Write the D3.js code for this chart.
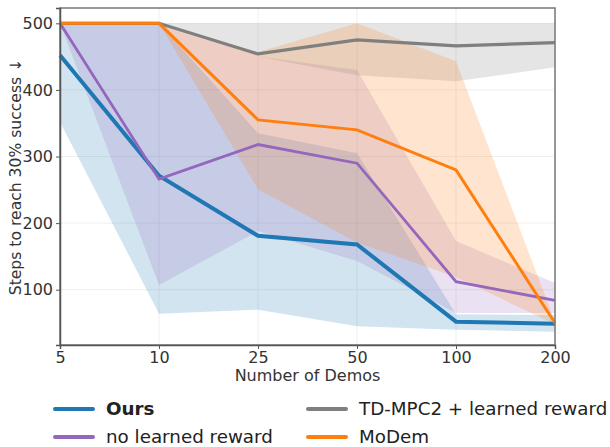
<!DOCTYPE html>
<html>
<head>
<meta charset="utf-8">
<script src="https://cdn.jsdelivr.net/npm/d3@7"></script>
<style>
  html, body { margin: 0; padding: 0; background: #fff; }
  svg { display: block; font-family: "DejaVu Sans", sans-serif; }
</style>
</head>
<body>
<svg id="chart" width="610" height="447"></svg>
<script>
// Number of demonstrations (categorical x axis)
const demos = ["5", "10", "25", "50", "100", "200"];
const yTicks = [100, 200, 300, 400, 500];

// Steps to reach 30% success: mean line with lower / upper band
const ours      = [452, 271, 181, 168, 52, 49];
const oursLo    = [352, 64, 70, 45, 40, 37];
const oursHi    = [500, 500, 335, 305, 63, 62];

const noReward   = [500, 266, 318, 290, 112, 84];
const noRewardLo = [500, 107, 188, 143, 65, 65];
const noRewardHi = [500, 500, 450, 430, 173, 110];

const tdmpc   = [500, 500, 454, 475, 466, 471];
const tdmpcLo = [500, 500, 450, 422, 413, 434];
const tdmpcHi = [500, 500, 500, 500, 500, 500];

const modem   = [500, 500, 355, 340, 280, 50];
const modemLo = [500, 500, 251, 171, 119, 48];
const modemHi = [500, 500, 457, 500, 443, 52];

const seriesNames = ["Ours", "no learned reward", "TD-MPC2 + learned reward", "MoDem"];
const seriesColors = ["#1f77b4", "#9467bd", "#7f7f7f", "#ff7f0e"];

const series = [
  { name: seriesNames[0], color: seriesColors[0], mean: ours, lo: oursLo, hi: oursHi, width: 4 },
  { name: seriesNames[1], color: seriesColors[1], mean: noReward, lo: noRewardLo, hi: noRewardHi, width: 2.8 },
  { name: seriesNames[2], color: seriesColors[2], mean: tdmpc, lo: tdmpcLo, hi: tdmpcHi, width: 3.2 },
  { name: seriesNames[3], color: seriesColors[3], mean: modem, lo: modemLo, hi: modemHi, width: 3 }
];

const svg = d3.select("#chart");
const L = 60, R = 555, T = 8, B = 345;

const x = d3.scalePoint().domain(demos).range([L, R]);
const y = d3.scaleLinear().domain([17, 523]).range([B, T]);

// grid
const grid = svg.append("g");
grid.selectAll("line.v").data(demos).join("line")
  .attr("x1", d => x(d)).attr("x2", d => x(d)).attr("y1", T).attr("y2", B)
  .attr("stroke", "#efefef").attr("stroke-width", 1);
grid.selectAll("line.h").data(yTicks).join("line")
  .attr("x1", L).attr("x2", R).attr("y1", d => y(d)).attr("y2", d => y(d))
  .attr("stroke", "#efefef").attr("stroke-width", 1);

// bands
const area = d3.area()
  .x((d, i) => x(demos[i]))
  .y0(d => y(d[0]))
  .y1(d => y(d[1]));
series.forEach(s => {
  svg.append("path")
    .datum(s.lo.map((v, i) => [v, s.hi[i]]))
    .attr("d", area)
    .attr("fill", s.color).attr("fill-opacity", 0.2);
});

// mean lines
const line = d3.line().x((d, i) => x(demos[i])).y(d => y(d));
series.forEach(s => {
  svg.append("path")
    .datum(s.mean)
    .attr("d", line)
    .attr("fill", "none")
    .attr("stroke", s.color)
    .attr("stroke-width", s.width)
    .attr("stroke-linejoin", "miter");
});

// frame
svg.append("rect").attr("x", L).attr("y", T).attr("width", R - L).attr("height", B - T)
  .attr("fill", "none").attr("stroke", "#777").attr("stroke-width", 1.5);

// axes
const yAxis = svg.append("g").attr("transform", `translate(${L},0)`)
  .call(d3.axisLeft(y).tickValues(yTicks).tickSize(4).tickPadding(3));
const xAxis = svg.append("g").attr("transform", `translate(0,${B})`)
  .call(d3.axisBottom(x).tickSize(4).tickPadding(3));
[yAxis, xAxis].forEach(a => {
  a.select(".domain").attr("stroke", "#555").attr("stroke-width", 1.5);
  a.selectAll(".tick line").attr("stroke", "#555");
  a.selectAll(".tick text").attr("fill", "#333").attr("font-size", 16)
    .attr("font-family", "DejaVu Sans, sans-serif");
});

// axis titles
svg.append("text").attr("x", (L + R) / 2).attr("y", 381)
  .attr("text-anchor", "middle").attr("font-size", 16).attr("fill", "#333")
  .text("Number of Demos");
svg.append("text").attr("transform", `translate(21,177) rotate(-90)`)
  .attr("text-anchor", "middle").attr("font-size", 15.6).attr("fill", "#333")
  .text("Steps to reach 30% success ↓");

// legend (two columns)
const legendPos = [[55, 409], [55, 437], [308, 409], [308, 437]];
series.forEach((s, i) => {
  const [lx, ly] = legendPos[i];
  svg.append("line").attr("x1", lx).attr("x2", lx + 38).attr("y1", ly).attr("y2", ly)
    .attr("stroke", s.color).attr("stroke-width", 4).attr("stroke-linecap", "round");
  svg.append("text").attr("x", lx + 51).attr("y", ly + 6)
    .attr("font-size", 18.3).attr("fill", "#222")
    .attr("font-weight", i === 0 ? "bold" : "normal")
    .text(s.name);
});
</script>
</body>
</html>
